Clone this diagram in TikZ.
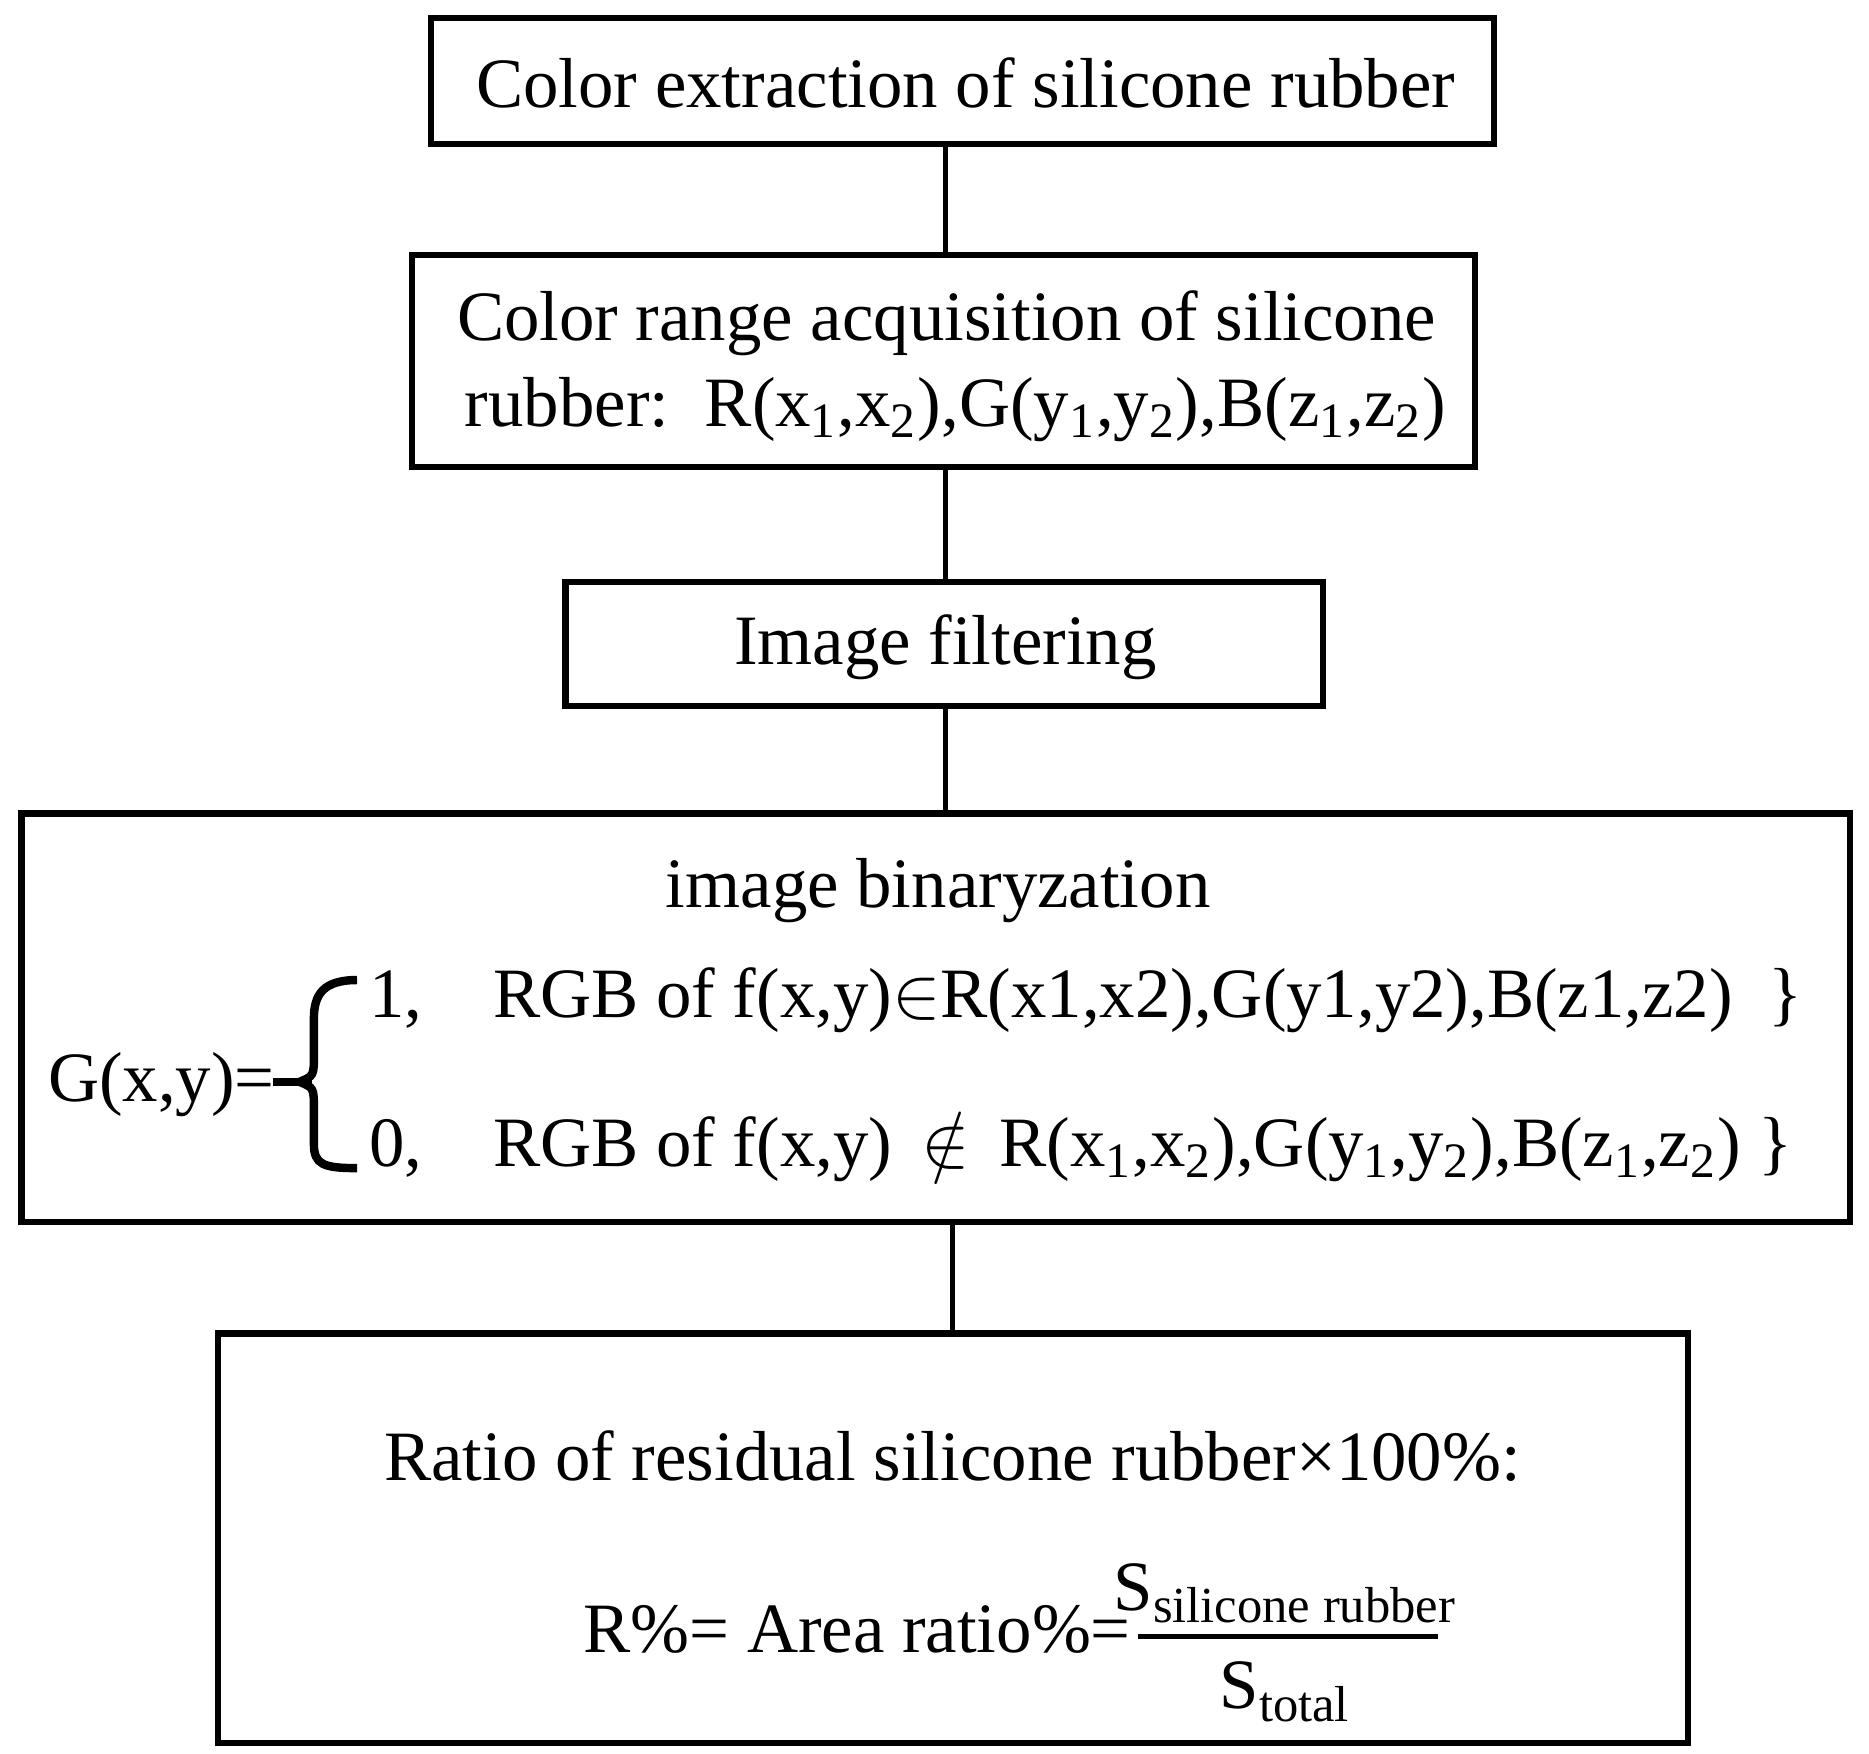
\documentclass[tikz,border=0pt]{standalone}
\usepackage{fontspec}
\setmainfont{Liberation Serif}
\begin{document}
\begin{tikzpicture}[x=0.01cm,y=-0.01cm,line width=1.2pt,
  box/.style={draw,line width=1.5pt},
  txt/.style={font=\fontsize{16.8}{20}\selectfont,inner sep=0pt}]
\useasboundingbox (0,0) rectangle (1560,1464);
\draw[box] (360,15) rectangle (1247,120);
\draw[box] (344,213) rectangle (1231,390);
\draw[box] (472,486) rectangle (1104,589);
\draw[box] (18,679) rectangle (1544,1020);
\draw[box] (182,1113) rectangle (1409,1455);
\coordinate (b1) at (789,120); \coordinate (b2t) at (789,213);
\coordinate (b2) at (789,390); \coordinate (b3t) at (789,486);
\coordinate (b3) at (789,589); \coordinate (b4t) at (789,679);
\coordinate (b4) at (795,1020); \coordinate (b5t) at (795,1113);
\draw (b1)--(b2t); \draw (b2)--(b3t); \draw (b3)--(b4t); \draw (b4)--(b5t);
\node[txt] (t1) at (806,69) {Color extraction of silicone rubber};
\node[txt] (t2a) at (790,270) {Color range acquisition of silicone};
\node[txt,anchor=west] (t2b) at (386,342) {rubber:\ \ R(x\textsubscript{1},x\textsubscript{2}),G(y\textsubscript{1},y\textsubscript{2}),B(z\textsubscript{1},z\textsubscript{2})};
\node[txt] (t3) at (789,540) {Image filtering};
\node[txt] (t4) at (783,743) {image binaryzation};
\node[txt,anchor=west] (g) at (38,905) {G(x,y)=};
\node[txt,anchor=west] (l1) at (306,835) {1,\quad RGB of f(x,y)$\in$R(x1,x2),G(y1,y2),B(z1,z2) \ \}};
\node[txt,anchor=west] (l2) at (306,957) {0,\quad RGB of f(x,y)\ \,$\notin$\ \,R(x\textsubscript{1},x\textsubscript{2}),G(y\textsubscript{1},y\textsubscript{2}),B(z\textsubscript{1},z\textsubscript{2}) \}};
\draw[line width=2pt] (228,903)--(260,903);
\draw[line width=2pt] (298,818) .. controls (270,818) and (262,830) .. (262,850) -- (262,880) .. controls (262,898) .. (250,903) .. controls (262,908) .. (262,926) -- (262,955) .. controls (262,972) and (270,975) .. (298,975);
\node[txt] (t5) at (795,1215) {Ratio of residual silicone rubber×100\%:};
\node[txt,anchor=east] (t6) at (946,1360) {R\%= Area ratio\%=};
\node[txt] (num) at (1072,1330) {S{\fontsize{12}{14}\selectfont\raisebox{-0.25em}{silicone rubber}}};
\node[txt] (den) at (1072,1412) {S{\fontsize{12}{14}\selectfont\raisebox{-0.25em}{total}}};
\draw (950,1366)--(1200,1366);
\end{tikzpicture}
\end{document}
